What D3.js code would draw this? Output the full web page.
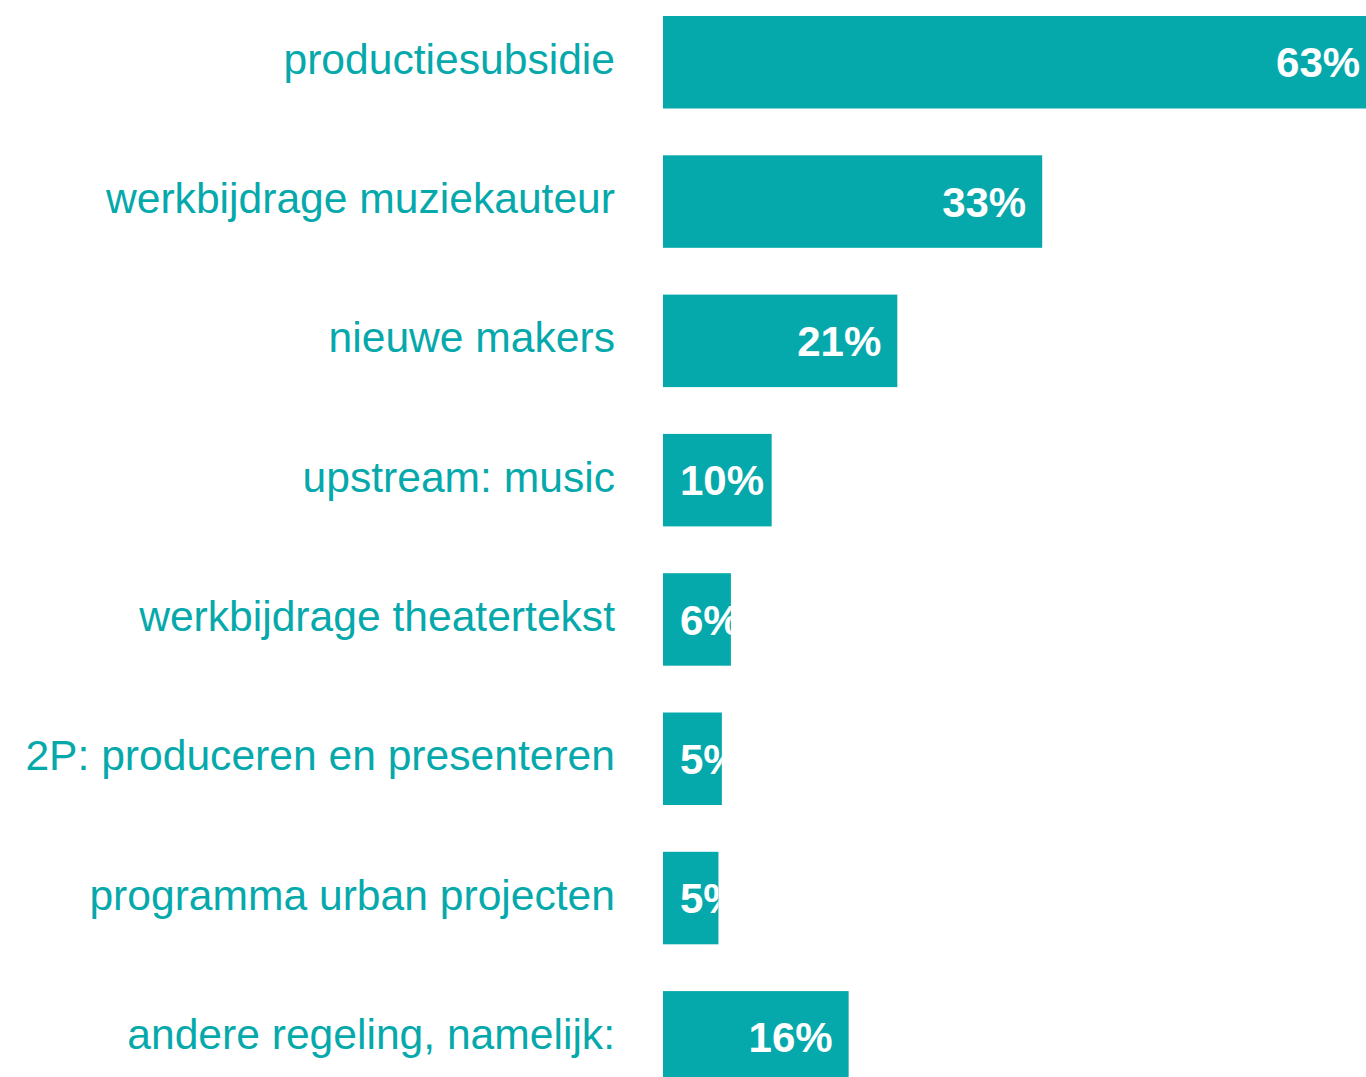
<!DOCTYPE html>
<html>
<head>
<meta charset="utf-8">
<script src="https://cdn.jsdelivr.net/npm/d3@7"></script>
<style>
  html, body { margin: 0; padding: 0; background: #fff; overflow: hidden; }
</style>
</head>
<body>
<div id="chart"></div>
<script>
// categories and values
var categories = [
    "productiesubsidie",
    "werkbijdrage muziekauteur",
    "nieuwe makers",
    "upstream: music",
    "werkbijdrage theatertekst",
    "2P: produceren en presenteren",
    "programma urban projecten",
    "andere regeling, namelijk:"
];
var values = [63, 33.5, 20.7, 9.6, 6.0, 5.2, 4.9, 16.4];
var valueLabels = ["63%", "33%", "21%", "10%", "6%", "5%", "5%", "16%"];

var teal = "#06a9ab";

var svgWidth = 1366;
var svgHeight = 1077;

var svg = d3.select("#chart")
    .append("svg")
    .attr("width", svgWidth)
    .attr("height", svgHeight);

var idx = d3.range(categories.length);

// x axis starts at the left edge of the bars
var xScale = d3.scaleLinear()
    .domain([0, 64])
    .range([663, 663 + 64 * 11.32]);

var yScale = d3.scaleBand()
    .domain(idx)
    .range([-30.8, 1130.4])
    .padding(0.336);

// clip paths so the value labels stay inside their bar
var defs = svg.append("defs");
defs.selectAll("clipPath")
    .data(idx)
    .enter()
    .append("clipPath")
    .attr("id", i => "clip" + i)
    .append("rect")
    .attr("x", xScale(0))
    .attr("y", i => yScale(i))
    .attr("width", i => xScale(values[i]) - xScale(0))
    .attr("height", yScale.bandwidth());

// bars
svg.append("g")
    .selectAll("rect")
    .data(idx)
    .enter()
    .append("rect")
    .attr("x", xScale(0))
    .attr("y", i => yScale(i))
    .attr("width", i => xScale(values[i]) - xScale(0))
    .attr("height", yScale.bandwidth())
    .attr("fill", teal);

// category labels
svg.append("g")
    .selectAll("text")
    .data(idx)
    .enter()
    .append("text")
    .attr("x", 615)
    .attr("y", i => yScale(i) + yScale.bandwidth() / 2)
    .attr("dy", "0.27em")
    .attr("text-anchor", "end")
    .attr("fill", teal)
    .style("font-family", "'Liberation Sans', Arial, sans-serif")
    .style("font-size", "42.6px")
    .text(i => categories[i]);

// value labels, right aligned near bar end but never before the bar start
var pad = 16;
var valueText = svg.append("g")
    .selectAll("text")
    .data(idx)
    .enter()
    .append("text")
    .attr("y", i => yScale(i) + yScale.bandwidth() / 2)
    .attr("dy", "0.36em")
    .attr("fill", "#fff")
    .attr("clip-path", i => "url(#clip" + i + ")")
    .style("font-family", "'Liberation Sans', Arial, sans-serif")
    .style("font-size", "42px")
    .style("font-weight", "bold")
    .text(i => valueLabels[i]);

valueText.attr("x", function (i) {
    var w = this.getComputedTextLength();
    return Math.max(xScale(values[i]) - pad - w, xScale(0) + 17);
});
</script>
</body>
</html>
